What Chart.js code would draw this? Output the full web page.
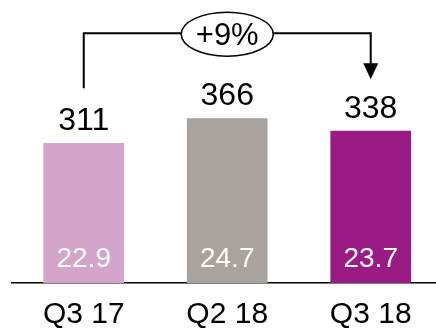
<!DOCTYPE html>
<html>
<head>
<meta charset="utf-8">
<script src="https://cdn.jsdelivr.net/npm/chart.js@4.4.1/dist/chart.umd.min.js"></script>
<style>
    html, body { margin: 0; padding: 0; background: #ffffff; }
    #wrap { width: 436px; height: 330px; }
</style>
</head>
<body>
<div id="wrap"><canvas id="myChart"></canvas></div>
<script>
let quarters = ["Q3 17", "Q2 18", "Q3 18"];
let totals = [311, 366, 338];
let innerValues = [22.9, 24.7, 23.7];
let growthLabel = "+9%";

let FONT = "'Liberation Sans', Arial, sans-serif";

// value labels above and inside the bars, plus the growth bracket
let barLabels = {
    id: "barLabels",
    afterDatasetsDraw: (chart) => {
        var ctx = chart.ctx;
        var bars = chart.getDatasetMeta(0).data;
        var y0 = chart.scales.y.getPixelForValue(0);
        ctx.save();
        ctx.textAlign = "center";
        ctx.textBaseline = "alphabetic";
        bars.forEach((bar, i) => {
            ctx.fillStyle = "#000000";
            ctx.font = "32px " + FONT;
            ctx.fillText(String(totals[i]), bar.x, bar.y - 13.5);
            ctx.fillStyle = "#ffffff";
            ctx.font = "28px " + FONT;
            ctx.fillText(innerValues[i].toFixed(1), bar.x, y0 - 16.5);
        });

        // bracket from the first to the last bar
        var first = bars[0];
        var last = bars[bars.length - 1];
        var lineY = chart.scales.y.getPixelForValue(556);
        var startY = first.y - 55;
        var tipY = last.y - 52;
        ctx.strokeStyle = "#000000";
        ctx.lineWidth = 2;
        ctx.beginPath();
        ctx.moveTo(first.x, startY);
        ctx.lineTo(first.x, lineY);
        ctx.lineTo(last.x, lineY);
        ctx.lineTo(last.x, tipY - 15);
        ctx.stroke();

        ctx.fillStyle = "#000000";
        ctx.beginPath();
        ctx.moveTo(last.x - 7.5, tipY - 16);
        ctx.lineTo(last.x + 7.5, tipY - 16);
        ctx.lineTo(last.x, tipY);
        ctx.closePath();
        ctx.fill();

        var cx = (first.x + last.x) / 2;
        ctx.beginPath();
        ctx.ellipse(cx, lineY + 1, 46, 22, 0, 0, Math.PI * 2);
        ctx.fillStyle = "#ffffff";
        ctx.fill();
        ctx.lineWidth = 1.5;
        ctx.stroke();

        ctx.fillStyle = "#000000";
        ctx.font = "31px " + FONT;
        ctx.fillText(growthLabel, cx, lineY + 12);
        ctx.restore();
    },
};

let drawChart = () => {
    var ctx = document.getElementById("myChart").getContext("2d");
    return new Chart(ctx, {
        type: "bar",
        data: {
            datasets: [
                {
                    data: totals.map((v, i) => ({ x: i, y: v })),
                    backgroundColor: ["#d4a4cb", "#a8a39e", "#9a1b84"],
                    borderWidth: 0,
                    barThickness: 80,
                },
            ],
        },
        options: {
            responsive: true,
            maintainAspectRatio: false,
            animation: false,
            layout: {
                padding: { left: 12, right: 0, top: 0, bottom: 0 },
            },
            plugins: {
                legend: { display: false },
                tooltip: { enabled: false },
            },
            scales: {
                x: {
                    type: "linear",
                    offset: false,
                    bounds: "data",
                    min: -0.5,
                    max: 2.455,
                    afterBuildTicks: (scale) => {
                        scale.ticks = quarters.map((q, i) => ({ value: i }));
                    },
                    afterFit: (scale) => {
                        scale.height = 47;
                    },
                    grid: { display: false, drawTicks: false, offset: false },
                    border: { display: true, color: "#000000", width: 1.5 },
                    ticks: {
                        padding: 14,
                        color: "#000000",
                        font: { family: FONT, size: 30 },
                        maxRotation: 0,
                        callback: (value) => quarters[value],
                    },
                },
                y: {
                    display: false,
                    min: 0,
                    max: 630,
                },
            },
        },
        plugins: [barLabels],
    });
};
drawChart();
</script>
</body>
</html>
